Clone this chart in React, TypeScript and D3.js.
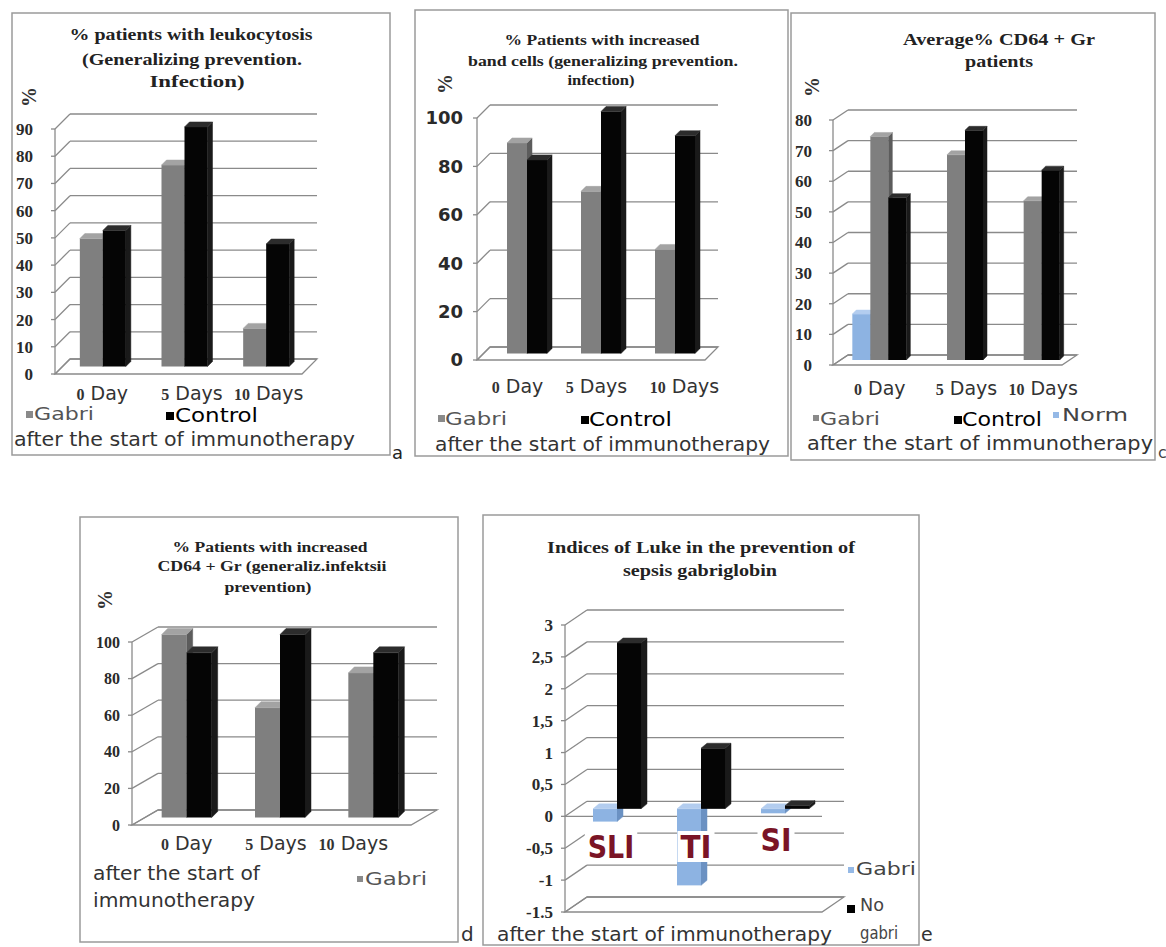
import React from "react";
import * as d3 from "d3";

// ---------- data ----------
const dayCategories = ["0 Day", "5 Days", "10 Days"];
const leukocytosisGabri = [47, 74, 14];
const leukocytosisControl = [50, 88, 45];
const bandCellsGabri = [87, 67, 43];
const bandCellsControl = [80, 100, 90];
const cd64AvgNorm: (number | null)[] = [15, null, null];
const cd64AvgGabri = [73, 67, 52];
const cd64AvgControl = [53, 75, 62];
const cd64IncGabri = [100, 60, 79];
const cd64IncControl = [90, 100, 90];
const lukeCategories = ["SLI", "TI", "SI"];
const lukeGabri = [-0.2, -1.2, -0.07];
const lukeNoGabri = [2.6, 0.95, 0.05];

const ticksA = [0, 10, 20, 30, 40, 50, 60, 70, 80, 90];
const ticksB = [0, 20, 40, 60, 80, 100];
const ticksC = [0, 10, 20, 30, 40, 50, 60, 70, 80];
const ticksD = [0, 20, 40, 60, 80, 100];
const ticksE = [-1.5, -1, -0.5, 0, 0.5, 1, 1.5, 2, 2.5, 3];
const tickLabelsE = ["-1.5", "-1", "-0,5", "0", "0,5", "1", "1,5", "2", "2,5", "3"];

// ---------- styles ----------
const GRAY = { front: "#7f7f7f", top: "#a3a3a3", side: "#5c5c5c" };
const BLACK = { front: "#050505", top: "#2c2c2c", side: "#1a1a1a" };
const BLUE = { front: "#8db3e2", top: "#b3cdef", side: "#6b91c2" };
const SERIF = "'Liberation Serif', 'Times New Roman', serif";
const SANS = "'DejaVu Sans', Verdana, sans-serif";
const GRID = "#8a8a8a";
const FRAME = "#9a9a9a";

type Series = { values: (number | null)[]; c: { front: string; top: string; side: string } };
type TitleLine = { text: string; x: number; y: number; len: number };
type TextItem = { text: string; x: number; y: number; len?: number; size?: number; color?: string; weight?: string };
type Sq = { x: number; y: number; s: number; color: string };

interface PanelSpec {
  frame: [number, number, number, number];
  titles: TitleLine[];
  titleSize: number;
  pct?: [number, number];
  domain: [number, number];
  range: [number, number];
  ticks: number[];
  tickLabels?: string[];
  tickX: number;
  tickFont: string;
  tickSize: number;
  fx: number;
  fxR: number;
  ddx: number;
  ddy: number;
  categories: string[];
  bandRange: [number, number];
  barW: number;
  sdx: number;
  sdy: number;
  series: Series[];
  catY: number;
  catDx: number[];
  catStyle: "day" | "luke";
  catDy?: number[];
  zeroLine?: boolean;
  texts: TextItem[];
  squares: Sq[];
}

function Bar3D({ x, w, yA, yB, sdx, sdy, c }: any) {
  const top = Math.min(yA, yB);
  const bot = Math.max(yA, yB);
  const side = `${x + w},${top} ${x + w + sdx},${top + sdy} ${x + w + sdx},${bot + sdy} ${x + w},${bot}`;
  const topF = `${x},${top} ${x + w},${top} ${x + w + sdx},${top + sdy} ${x + sdx},${top + sdy}`;
  return (
    <g>
      <polygon points={side} fill={c.side} stroke={c.side} strokeWidth={0.5} strokeLinejoin="round" />
      <rect x={x} y={top} width={w} height={Math.max(0.5, bot - top)} fill={c.front} />
      <polygon points={topF} fill={c.top} stroke={c.top} strokeWidth={0.5} strokeLinejoin="round" />
    </g>
  );
}

function Panel({ p }: { p: PanelSpec }) {
  const y = d3.scaleLinear().domain(p.domain).range(p.range);
  const band = d3.scaleBand().domain(p.categories).range(p.bandRange);
  const y0v = p.domain[0];
  const yMax = p.domain[1];
  const bx = p.ddx / 2;
  const by = p.ddy / 2;
  const baseVal = p.domain[0] < 0 ? 0 : p.domain[0];
  const [fx0, fy0, fw, fh] = p.frame;
  return (
    <g>
      <rect x={fx0} y={fy0} width={fw} height={fh} fill="#fff" stroke={FRAME} strokeWidth={1.5} />
      {p.titles.map((t, i) => (
        <text key={i} x={t.x} y={t.y} textAnchor="middle" fontFamily={SERIF} fontWeight="bold"
          fontSize={p.titleSize} fill="#222" textLength={t.len} lengthAdjust="spacingAndGlyphs">{t.text}</text>
      ))}
      {p.pct && (
        <text transform={`translate(${p.pct[0]},${p.pct[1]}) rotate(-90)`} textAnchor="middle"
          fontFamily={SERIF} fontWeight="bold" fontSize={20} fill="#333">%</text>
      )}
      {/* walls */}
      {p.ticks.map((t) => (
        <g key={t}>
          <line x1={p.fx + p.ddx} x2={p.fxR + p.ddx} y1={y(t) + p.ddy} y2={y(t) + p.ddy} stroke={GRID} strokeWidth={1.3} />
          <line x1={p.fx} x2={p.fx + p.ddx} y1={y(t)} y2={y(t) + p.ddy} stroke={GRID} strokeWidth={1.3} />
          <line x1={p.fx - 4} x2={p.fx} y1={y(t)} y2={y(t)} stroke={GRID} strokeWidth={1.3} />
          <text x={p.tickX} y={y(t)} dy="0.35em" textAnchor="end" fontFamily={p.tickFont} fontWeight="bold"
            fontSize={p.tickSize} fill="#2a2a2a">{p.tickLabels ? p.tickLabels[p.ticks.indexOf(t)] : String(t)}</text>
        </g>
      ))}
      <line x1={p.fx} x2={p.fx} y1={y(y0v)} y2={y(yMax)} stroke={GRID} strokeWidth={1.3} />
      <polygon points={`${p.fx},${y(y0v)} ${p.fxR},${y(y0v)} ${p.fxR + p.ddx},${y(y0v) + p.ddy} ${p.fx + p.ddx},${y(y0v) + p.ddy}`}
        fill="none" stroke={GRID} strokeWidth={1.3} />
      {p.zeroLine && <line x1={p.fx} x2={p.fxR} y1={y(0)} y2={y(0)} stroke={GRID} strokeWidth={1.3} />}
      {/* bars */}
      {p.categories.map((cat, i) => {
        const c = (band(cat) as number) + band.bandwidth() / 2;
        const n = p.series.length;
        return (
          <g key={cat}>
            {p.series.map((s, j) => {
              const v = s.values[i];
              if (v === null || v === undefined) return null;
              const x = c - (n * p.barW) / 2 + j * p.barW;
              return <Bar3D key={j} x={x} w={p.barW} yA={y(baseVal) + by} yB={y(v) + by} sdx={p.sdx} sdy={p.sdy} c={s.c} />;
            })}
          </g>
        );
      })}
      {/* category labels */}
      {p.categories.map((cat, i) => {
        const c = (band(cat) as number) + band.bandwidth() / 2 - bx + p.catDx[i];
        if (p.catStyle === "luke") {
          const yy = p.catY + (p.catDy ? p.catDy[i] : 0);
          const w = cat.length * 15.5;
          return (
            <g key={cat}>
              <rect x={c - w / 2 - 3} y={yy - 27} width={w + 6} height={31} fill="#fff" />
              <text x={c} y={yy} textAnchor="middle" fontFamily={SANS} fontWeight="bold" fontSize={32} fill="#7a1426"
                textLength={w} lengthAdjust="spacingAndGlyphs">{cat}</text>
            </g>
          );
        }
        const [num, ...rest] = cat.split(" ");
        return (
          <text key={cat} x={c} y={p.catY} textAnchor="middle" fill="#333">
            <tspan fontFamily={SERIF} fontWeight="bold" fontSize={16}>{num}</tspan>
            <tspan fontFamily={SANS} fontSize={19}>{" " + rest.join(" ")}</tspan>
          </text>
        );
      })}
      {p.squares.map((s, i) => (
        <rect key={i} x={s.x} y={s.y} width={s.s} height={s.s} fill={s.color} />
      ))}
      {p.texts.map((t, i) => (
        <text key={i} x={t.x} y={t.y} fontFamily={SANS} fontSize={t.size ?? 19} fill={t.color ?? "#333"}
          fontWeight={t.weight ?? "normal"} textLength={t.len} lengthAdjust={t.len ? "spacingAndGlyphs" : undefined}>{t.text}</text>
      ))}
    </g>
  );
}

const panels: PanelSpec[] = [
  {
    frame: [12, 13, 378, 442],
    titles: [
      { text: "% patients with leukocytosis", x: 191, y: 40, len: 243 },
      { text: "(Generalizing prevention.", x: 192, y: 65, len: 220 },
      { text: "Infection)", x: 197, y: 87, len: 95 },
    ],
    titleSize: 17,
    pct: [36, 97],
    domain: [0, 90], range: [374, 129],
    ticks: ticksA, tickX: 33, tickFont: SERIF, tickSize: 17,
    fx: 55, fxR: 302, ddx: 15, ddy: -15,
    categories: dayCategories, bandRange: [62, 307], barW: 23, sdx: 5, sdy: -5,
    series: [{ values: leukocytosisGabri, c: GRAY }, { values: leukocytosisControl, c: BLACK }],
    catY: 400, catDx: [7, 15, 10], catStyle: "day",
    texts: [
      { text: "Gabri", x: 34, y: 420, len: 60, size: 17, color: "#555" },
      { text: "Control", x: 175, y: 422, len: 83, size: 19, color: "#000" },
      { text: "after the start of immunotherapy", x: 14, y: 446, len: 341 },
      { text: "a", x: 392, y: 459, size: 18, color: "#222" },
    ],
    squares: [{ x: 26, y: 411, s: 7, color: "#8a8a8a" }, { x: 166, y: 412, s: 8, color: "#000" }],
  },
  {
    frame: [415, 10, 373, 446],
    titles: [
      { text: "% Patients with increased", x: 602, y: 45, len: 195 },
      { text: "band cells (generalizing prevention.", x: 603, y: 66, len: 270 },
      { text: "infection)", x: 601, y: 85, len: 67 },
    ],
    titleSize: 14,
    pct: [452, 84],
    domain: [0, 100], range: [360, 118],
    ticks: ticksB, tickX: 463, tickFont: SANS, tickSize: 18,
    fx: 477, fxR: 705, ddx: 13, ddy: -13,
    categories: dayCategories, bandRange: [490, 712], barW: 20, sdx: 5, sdy: -5,
    series: [{ values: bandCellsGabri, c: GRAY }, { values: bandCellsControl, c: BLACK }],
    catY: 393, catDx: [-3, 2, 16], catStyle: "day",
    texts: [
      { text: "Gabri", x: 445, y: 425, len: 62, size: 17, color: "#555" },
      { text: "Control", x: 589, y: 426, len: 83, size: 19, color: "#000" },
      { text: "after the start of immunotherapy", x: 435, y: 451, len: 335 },
    ],
    squares: [{ x: 438, y: 415, s: 7, color: "#8a8a8a" }, { x: 581, y: 416, s: 8, color: "#000" }],
  },
  {
    frame: [791, 13, 364, 447],
    titles: [
      { text: "Average% CD64 + Gr", x: 999, y: 45, len: 192 },
      { text: "patients", x: 999, y: 67, len: 68 },
    ],
    titleSize: 16,
    pct: [819, 87],
    domain: [0, 80], range: [365, 120],
    ticks: ticksC, tickX: 812, tickFont: SERIF, tickSize: 17,
    fx: 833, fxR: 1062, ddx: 15, ddy: -10,
    categories: dayCategories, bandRange: [841, 1071], barW: 18, sdx: 4, sdy: -4,
    series: [{ values: cd64AvgNorm, c: BLUE }, { values: cd64AvgGabri, c: GRAY }, { values: cd64AvgControl, c: BLACK }],
    catY: 395, catDx: [8, 18, 18], catStyle: "day",
    texts: [
      { text: "Gabri", x: 820, y: 425, len: 60, size: 17, color: "#555" },
      { text: "Control", x: 962, y: 426, len: 80, size: 19, color: "#000" },
      { text: "Norm", x: 1062, y: 421, len: 66, size: 17, color: "#444" },
      { text: "after the start of immunotherapy", x: 807, y: 450, len: 346 },
      { text: "c", x: 1158, y: 458, size: 16, color: "#444" },
    ],
    squares: [{ x: 813, y: 415, s: 6, color: "#8a8a8a" }, { x: 954, y: 416, s: 8, color: "#000" }, { x: 1053, y: 412, s: 6, color: "#95b9e6" }],
  },
  {
    frame: [80, 517, 378, 425],
    titles: [
      { text: "% Patients with increased", x: 270, y: 552, len: 195 },
      { text: "CD64 + Gr (generaliz.infektsii", x: 272, y: 571, len: 229 },
      { text: "prevention)", x: 268, y: 592, len: 87 },
    ],
    titleSize: 14,
    pct: [112, 600],
    domain: [0, 100], range: [825, 642],
    ticks: ticksD, tickX: 120, tickFont: SERIF, tickSize: 16,
    fx: 132, fxR: 411, ddx: 26, ddy: -15,
    categories: dayCategories, bandRange: [140, 420], barW: 25, sdx: 6, sdy: -6,
    series: [{ values: cd64IncGabri, c: GRAY }, { values: cd64IncControl, c: BLACK }],
    catY: 850, catDx: [13, 9, -7], catStyle: "day",
    texts: [
      { text: "after the start of", x: 93, y: 880, len: 167 },
      { text: "immunotherapy", x: 93, y: 907, len: 162 },
      { text: "Gabri", x: 365, y: 885, len: 62, size: 17, color: "#555" },
      { text: "d", x: 461, y: 941, size: 20, color: "#333" },
    ],
    squares: [{ x: 357, y: 876, s: 6, color: "#8a8a8a" }],
  },
  {
    frame: [483, 515, 436, 430],
    titles: [
      { text: "Indices of Luke in the prevention of", x: 701, y: 553, len: 308 },
      { text: "sepsis gabriglobin", x: 700, y: 576, len: 154 },
    ],
    titleSize: 17,
    domain: [-1.5, 3], range: [912, 625],
    ticks: ticksE, tickLabels: tickLabelsE, tickX: 553, tickFont: SERIF, tickSize: 17,
    fx: 565, fxR: 822, ddx: 22, ddy: -15,
    categories: lukeCategories, bandRange: [575, 827], barW: 24, sdx: 6, sdy: -5,
    series: [{ values: lukeGabri, c: BLUE }, { values: lukeNoGabri, c: BLACK }],
    catY: 858, catDx: [5, 6, 2], catDy: [0, 0, -7], catStyle: "luke", zeroLine: true,
    texts: [
      { text: "Gabri", x: 856, y: 875, len: 60, size: 17, color: "#444" },
      { text: "No", x: 860, y: 911, len: 24, size: 17, color: "#444" },
      { text: "gabri", x: 860, y: 939, len: 38, size: 17, color: "#444" },
      { text: "after the start of immunotherapy", x: 497, y: 941, len: 335 },
      { text: "e", x: 921, y: 941, size: 19, color: "#333" },
    ],
    squares: [{ x: 848, y: 867, s: 6, color: "#95b9e6" }, { x: 847, y: 905, s: 8, color: "#000" }],
  },
];

export default function App() {
  return (
    <svg width={1166} height={947} viewBox="0 0 1166 947" style={{ display: "block", position: "absolute", left: 0, top: 0, background: "#fff" }}>
      <rect x={0} y={0} width={1166} height={947} fill="#fff" />
      {panels.map((p, i) => (
        <Panel key={i} p={p} />
      ))}
    </svg>
  );
}
